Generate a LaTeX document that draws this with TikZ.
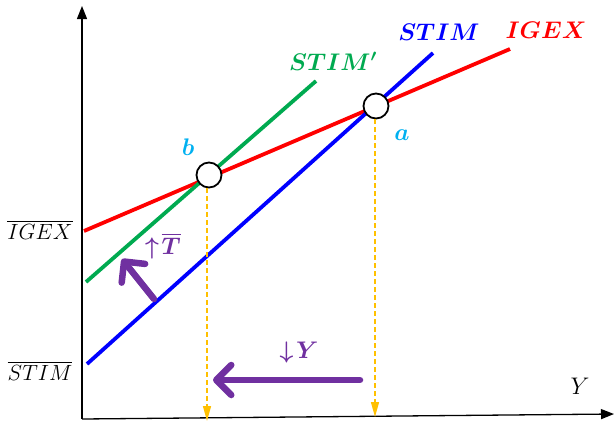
\RequirePackage{fix-cm}
\documentclass[tikz,border=0pt]{standalone}
\usepackage{amsmath,bm}
\usetikzlibrary{arrows.meta}
\definecolor{myred}{RGB}{255,0,0}
\definecolor{myblue}{RGB}{0,0,255}
\definecolor{mygreen}{RGB}{0,170,80}
\definecolor{mycyan}{RGB}{0,176,240}
\definecolor{mypurple}{RGB}{112,48,160}
\definecolor{myorange}{RGB}{255,192,0}
\begin{document}
\begin{tikzpicture}[x=1pt,y=-1pt,
  curve/.style={line width=3.8pt},
  guide/.style={myorange,line width=1.4pt,dash pattern=on 5pt off 3pt,-{Triangle[length=15pt,width=8pt]}},
  shiftarrow/.style={mypurple,line width=6.5pt,line cap=round,-{Straight Barb[length=15pt,width=30pt,line width=6.5pt,round]}},
  eqpt/.style={circle,draw=black,fill=white,line width=1.8pt,minimum size=25pt,inner sep=0pt},
  lbl/.style={font=\fontsize{22}{26}\selectfont},
  blbl/.style={font=\fontsize{24}{28}\selectfont}]
\useasboundingbox (0,0) rectangle (615,421);
% axes
\coordinate (O) at (82,419);
\coordinate (xend) at (614,414);
\coordinate (yend) at (82,6);
\draw[line width=1.3pt,-{Triangle[length=13pt,width=10pt]}] (O) -- (xend);
\draw[line width=1.3pt,-{Triangle[length=13pt,width=10pt]}] (O) -- (yend);
% curves
\coordinate (r1) at (84,231); \coordinate (r2) at (510,49);
\coordinate (b1) at (87,364); \coordinate (b2) at (433,53);
\coordinate (g1) at (86,282); \coordinate (g2) at (316,81);
\draw[curve,myred] (r1) -- (r2);
\draw[curve,myblue] (b1) -- (b2);
\draw[curve,mygreen] (g1) -- (g2);
% equilibrium points
\node[eqpt] (b) at (209,175) {};
\node[eqpt] (a) at (376,106) {};
\coordinate (bfoot) at (207,421);
\coordinate (afoot) at (375,417);
\draw[guide] (b.south) ++(-2,0) coordinate (bs) -- (bfoot);
\draw[guide] (a.south) ++(-1,0) coordinate (as) -- (afoot);
% shift arrows
\coordinate (y1) at (360,380); \coordinate (y2) at (213,380);
\draw[shiftarrow] (y1) -- (y2);
\coordinate (t1) at (154,299); \coordinate (t2) at (122,259);
\draw[shiftarrow] (t1) -- (t2);
% labels
\node[blbl,myblue] (lstim) at (439,32) {$\bm{STIM}$};
\node[blbl,myred] (ligex) at (546,30) {$\bm{IGEX}$};
\node[blbl,mygreen] (lstimp) at (333,61) {$\bm{STIM'}$};
\node[blbl,mycyan] (lb) at (188,147) {$\bm{b}$};
\node[blbl,mycyan] (la) at (402,135) {$\bm{a}$};
\node[blbl,mypurple] (lt) at (163,246) {$\bm{\uparrow}\!\bm{\overline{T}}$};
\node[blbl,mypurple] (ly) at (299,352) {$\bm{\downarrow}\!\bm{Y}$};
\node[blbl] (lY) at (580,386) {$Y$};
\node[lbl] (ligexbar) at (40,230) {$\overline{IGEX}$};
\node[lbl] (lstimbar) at (40,371) {$\overline{STIM}$};
\end{tikzpicture}
\end{document}
